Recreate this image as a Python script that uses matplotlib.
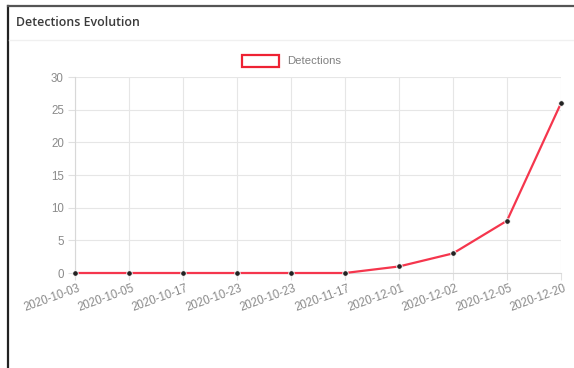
import matplotlib
matplotlib.use("Agg")
import matplotlib.pyplot as plt
import matplotlib.transforms as mtransforms
from matplotlib.lines import Line2D
from matplotlib.patches import Rectangle

dates = ["2020-10-03", "2020-10-05", "2020-10-17", "2020-10-23", "2020-10-23",
         "2020-11-17", "2020-12-01", "2020-12-02", "2020-12-05", "2020-12-20"]
detections = [0, 0, 0, 0, 0, 0, 1, 3, 8, 26]
yticks = [0, 5, 10, 15, 20, 25, 30]

W, H = 574, 368
fig = plt.figure(figsize=(W / 100, H / 100), dpi=100)
fig.patch.set_facecolor("white")

# frame lines
fig.add_artist(Line2D([8 / W, 8 / W], [0, 1 - 6 / H], color="#222222", lw=1.6))
fig.add_artist(Line2D([8 / W, 1], [1 - 6 / H, 1 - 6 / H], color="#555555", lw=1.6))
fig.add_artist(Line2D([9 / W, 1], [1 - 40 / H, 1 - 40 / H], color="#f0f0f0", lw=1))

fig.text(16 / W, 1 - 22 / H, "Detections Evolution", fontsize=8.9, color="#3a3a3a",
         fontfamily="Open Sans", fontweight="semibold", va="center", ha="left")

# legend
fig.add_artist(Rectangle((242 / W, 1 - 67 / H), 37 / W, 12 / H, transform=fig.transFigure,
                         facecolor="white", edgecolor="#ee2233", lw=1.6))
fig.text(287 / W, 1 - 61 / H, "Detections", fontsize=8.2, color="#808080",
         fontfamily="Liberation Sans", va="center", ha="left")

x0, x1 = 75, 561
y0, y1 = 273, 77
ax = fig.add_axes([x0 / W, 1 - y0 / H, (x1 - x0) / W, (y0 - y1) / H])
xs = list(range(len(dates)))
ax.plot(xs, detections, color="#f5364d", lw=1.6, zorder=3,
        marker="o", ms=4, mfc="#222222", mec="white", mew=0.6, clip_on=False)
ax.set_xlim(0, len(dates) - 1)
ax.set_ylim(0, 30)
ax.set_yticks(yticks)
ax.set_xticks(xs)
ax.set_xticklabels(dates, rotation=20, ha="right", va="top", rotation_mode="anchor",
                   fontfamily="Liberation Sans", fontsize=8.3, color="#8a8a8a")
ax.set_yticklabels([str(v) for v in yticks], fontfamily="Liberation Sans",
                   fontsize=8.3, color="#8a8a8a")
ax.grid(True, color="#e6e6e6", lw=0.8)
ax.set_axisbelow(True)
for s in ["top", "right"]:
    ax.spines[s].set_visible(False)
ax.spines["left"].set_color("#d8d8d8")
ax.spines["bottom"].set_color("#d8d8d8")
ax.tick_params(axis="both", length=5, color="#e0e0e0", width=0.8)
ax.tick_params(axis="y", pad=3)
ax.tick_params(axis="x", pad=2)
offset = mtransforms.ScaledTranslation(3 / 100, 0, fig.dpi_scale_trans)
for lab in ax.get_xticklabels():
    lab.set_transform(lab.get_transform() + offset)

fig.savefig("out.png", dpi=100, facecolor="white")
